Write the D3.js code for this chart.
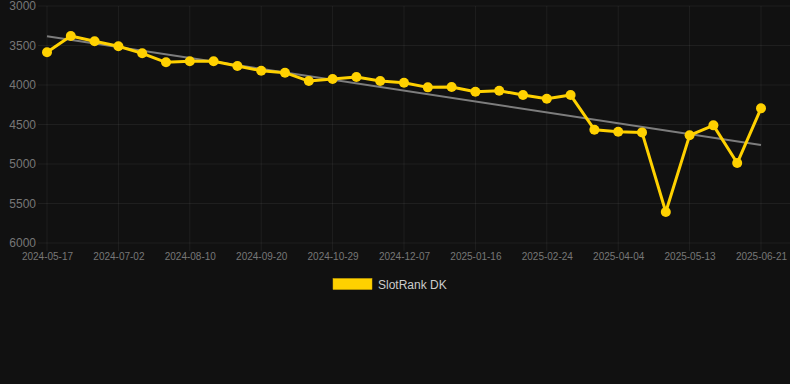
<!DOCTYPE html>
<html>
<head>
<meta charset="utf-8">
<script src="https://cdn.jsdelivr.net/npm/d3@7"></script>
<style>
  html, body { margin: 0; padding: 0; background: #111111; }
  svg { display: block; font-family: "Liberation Sans", Arial, Helvetica, sans-serif; }
</style>
</head>
<body>
<svg id="chart" width="790" height="384"></svg>
<script>
const categories = [
  "2024-05-17","2024-06-01","2024-06-16","2024-07-02","2024-07-15","2024-07-28",
  "2024-08-10","2024-08-24","2024-09-06","2024-09-20","2024-10-03","2024-10-16",
  "2024-10-29","2024-11-11","2024-11-24","2024-12-07","2024-12-20","2025-01-03",
  "2025-01-16","2025-01-29","2025-02-11","2025-02-24","2025-03-09","2025-03-22",
  "2025-04-04","2025-04-17","2025-04-30","2025-05-13","2025-05-26","2025-06-08",
  "2025-06-21"
];
const rankValues = [
  3586, 3380, 3447, 3510, 3599, 3713,
  3700, 3700, 3760, 3819, 3844, 3950,
  3924, 3899, 3950, 3971, 4030, 4025,
  4085, 4072, 4127, 4173, 4127, 4566,
  4591, 4600, 5608, 4637, 4511, 4988,
  4295
];
const xTickLabels = [
  "2024-05-17","2024-07-02","2024-08-10","2024-09-20","2024-10-29","2024-12-07",
  "2025-01-16","2025-02-24","2025-04-04","2025-05-13","2025-06-21"
];
const yTicks = [3000, 3500, 4000, 4500, 5000, 5500, 6000];
const seriesName = "SlotRank DK";

(function () {
const svg = d3.select("#chart");
const W = 790;
const pLeft = 47, pRight = 761, pTop = 6, pBottom = 243;

const x = d3.scalePoint().domain(categories).range([pLeft, pRight]);
const y = d3.scaleLinear().domain([3000, 6000]).range([pTop, pBottom]);

// grid lines
const grid = svg.append("g");
grid.selectAll("line.h").data(yTicks).join("line").attr("class", "h")
  .attr("x1", pLeft - 9).attr("x2", W)
  .attr("y1", d => y(d)).attr("y2", d => y(d))
  .attr("stroke", "rgba(255,255,255,0.06)").attr("stroke-width", 1);
grid.selectAll("line.v").data(xTickLabels).join("line").attr("class", "v")
  .attr("x1", d => x(d)).attr("x2", d => x(d))
  .attr("y1", pTop).attr("y2", pBottom + 8)
  .attr("stroke", "rgba(255,255,255,0.06)").attr("stroke-width", 1);

// y axis labels
const yAxis = d3.axisLeft(y).tickValues(yTicks).tickSize(0).tickPadding(0).tickFormat(d3.format("d"));
const gy = svg.append("g").attr("transform", `translate(${pLeft - 11},0)`).call(yAxis);
gy.select(".domain").remove();
gy.selectAll("text").attr("fill", "#777777").style("font-size", "12px");

// x axis labels
const xAxis = d3.axisBottom(x).tickValues(xTickLabels).tickSize(0).tickPadding(0);
const gx = svg.append("g").attr("transform", `translate(0,${pBottom + 10})`).call(xAxis);
gx.select(".domain").remove();
gx.selectAll("text").attr("fill", "#777777").style("font-size", "10px");

// trend line (least squares)
const n = rankValues.length;
const idx = d3.range(n);
const mx = d3.mean(idx), my = d3.mean(rankValues);
const slope = d3.sum(idx, i => (i - mx) * (rankValues[i] - my)) / d3.sum(idx, i => (i - mx) * (i - mx));
const intercept = my - slope * mx;
svg.append("line")
  .attr("x1", x(categories[0])).attr("y1", y(intercept))
  .attr("x2", x(categories[n - 1])).attr("y2", y(intercept + slope * (n - 1)))
  .attr("stroke", "#7d7d7d").attr("stroke-width", 2);

// series line
const line = d3.line().x((d, i) => x(categories[i])).y(d => y(d));
svg.append("path").datum(rankValues)
  .attr("d", line).attr("fill", "none")
  .attr("stroke", "#FFD100").attr("stroke-width", 3).attr("stroke-linejoin", "round");

svg.append("g").selectAll("circle").data(rankValues).join("circle")
  .attr("cx", (d, i) => x(categories[i])).attr("cy", d => y(d))
  .attr("r", 5).attr("fill", "#FFD100");

// legend
const lg = svg.append("g");
lg.append("rect").attr("x", 333).attr("y", 278.5).attr("width", 39).attr("height", 11)
  .attr("fill", "#FFD100").attr("stroke", "#d9b000").attr("stroke-width", 0.5);
lg.append("text").attr("x", 378).attr("y", 285).attr("dy", "0.35em")
  .attr("fill", "#cccccc").style("font-size", "12px").text(seriesName);
})();
</script>
</body>
</html>
